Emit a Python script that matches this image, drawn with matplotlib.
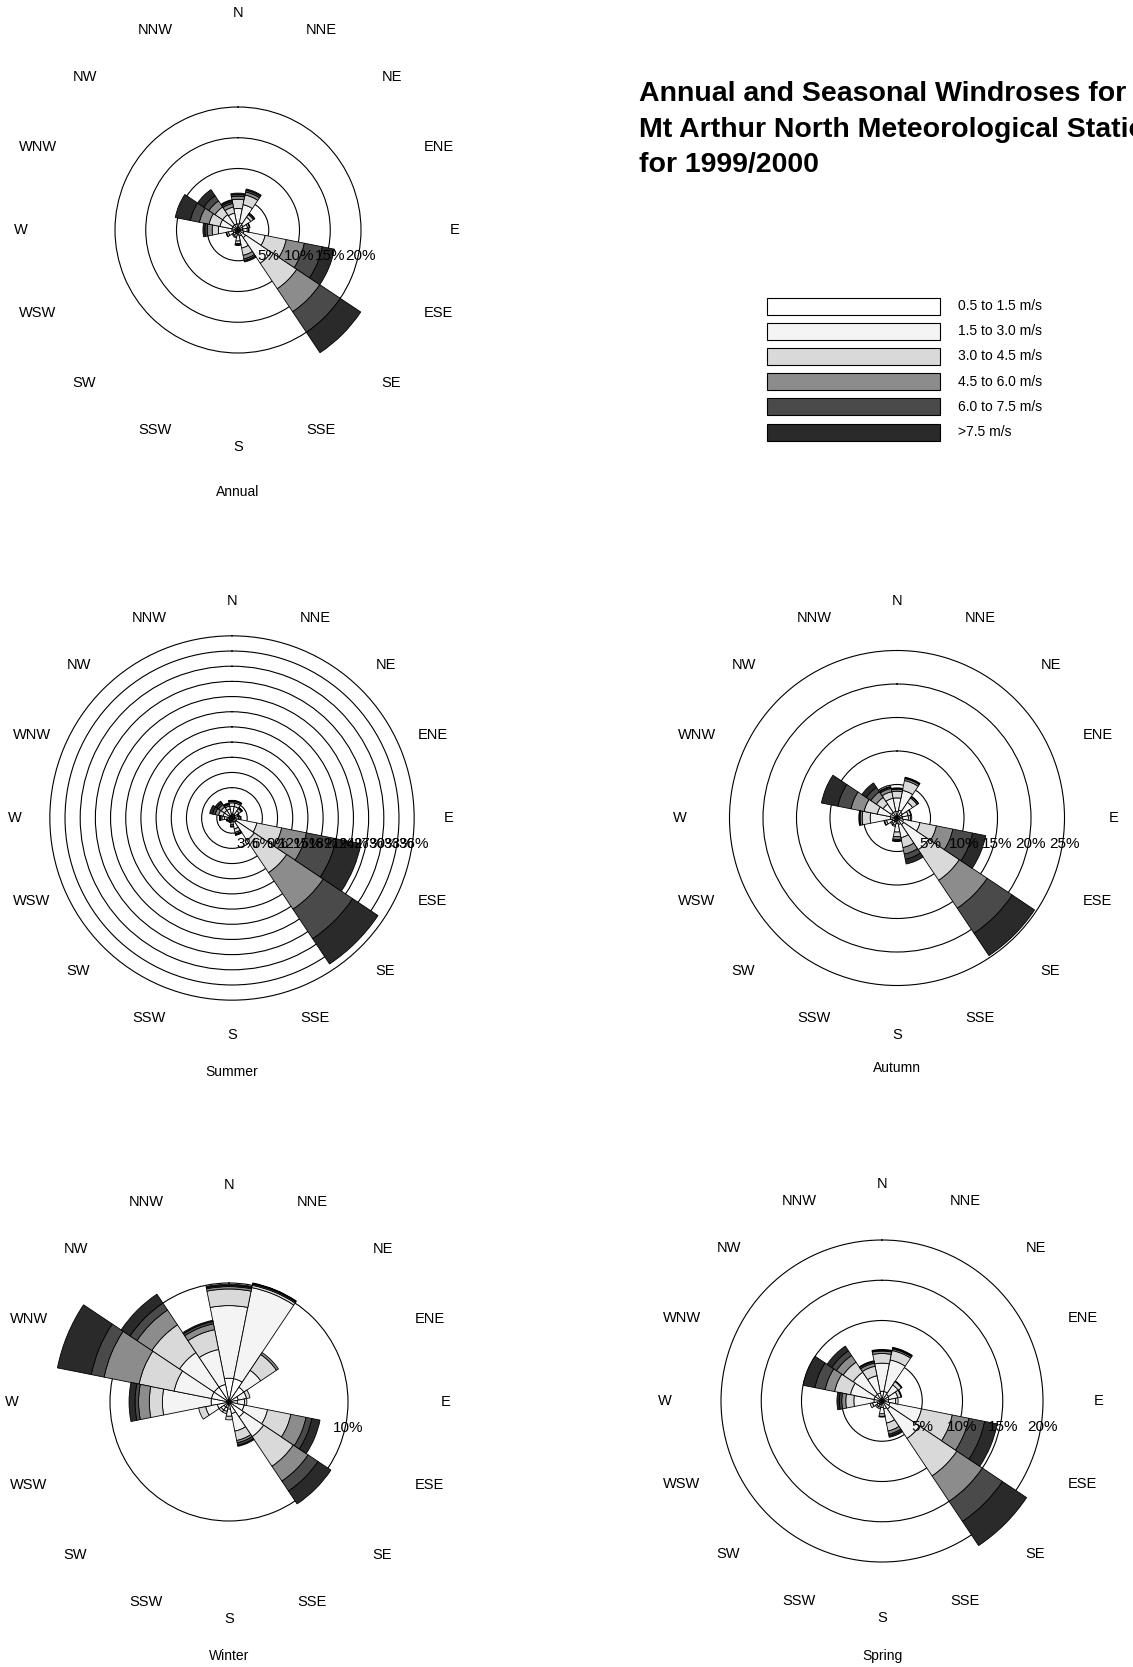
import numpy as np
import matplotlib.pyplot as plt
from matplotlib.patches import Rectangle

plt.rcParams['font.family'] = ['Liberation Sans', 'DejaVu Sans']

# 16 compass sectors, clockwise from north
directions = ["N", "NNE", "NE", "ENE", "E", "ESE", "SE", "SSE",
              "S", "SSW", "SW", "WSW", "W", "WNW", "NW", "NNW"]

speed_classes = ["0.5 to 1.5 m/s", "1.5 to 3.0 m/s", "3.0 to 4.5 m/s",
                 "4.5 to 6.0 m/s", "6.0 to 7.5 m/s", ">7.5 m/s"]
class_colors = ["#ffffff", "#f4f4f4", "#d9d9d9", "#8c8c8c", "#4a4a4a", "#2a2a2a"]

# frequency (%) per direction, one column per speed class
annual = [
    [1.0, 2.5, 1.5, 0.5, 0.3, 0.2],
    [1.2, 3.0, 1.6, 0.5, 0.3, 0.2],
    [1.0, 1.5, 0.5, 0.2, 0.1, 0.0],
    [0.8, 0.8, 0.3, 0.1, 0.0, 0.0],
    [0.8, 0.7, 0.2, 0.1, 0.0, 0.0],
    [1.0, 3.5, 3.5, 3.0, 3.0, 2.0],
    [1.5, 5.0, 5.0, 4.5, 4.0, 4.0],
    [1.0, 2.0, 1.2, 0.6, 0.3, 0.2],
    [0.8, 1.0, 0.4, 0.2, 0.1, 0.0],
    [0.6, 0.5, 0.2, 0.0, 0.0, 0.0],
    [0.6, 0.4, 0.2, 0.0, 0.0, 0.0],
    [0.8, 0.8, 0.3, 0.1, 0.0, 0.0],
    [1.0, 2.2, 1.0, 0.8, 0.4, 0.3],
    [1.0, 2.0, 1.8, 1.6, 1.5, 2.5],
    [1.0, 2.0, 1.5, 1.2, 1.0, 1.2],
    [1.0, 1.8, 1.0, 0.6, 0.3, 0.2],
]

summer = [
    [0.8, 1.5, 0.7, 0.3, 0.1, 0.1],
    [0.8, 1.5, 0.7, 0.3, 0.1, 0.1],
    [0.7, 1.0, 0.5, 0.2, 0.1, 0.0],
    [0.6, 0.6, 0.2, 0.1, 0.0, 0.0],
    [0.6, 0.7, 0.3, 0.2, 0.0, 0.0],
    [1.0, 4.0, 5.0, 5.0, 6.0, 5.0],
    [1.0, 4.3, 7.7, 8.7, 7.0, 6.0],
    [0.8, 1.4, 0.7, 0.3, 0.2, 0.1],
    [0.6, 0.7, 0.3, 0.1, 0.1, 0.0],
    [0.5, 0.3, 0.2, 0.0, 0.0, 0.0],
    [0.5, 0.3, 0.2, 0.0, 0.0, 0.0],
    [0.5, 0.4, 0.2, 0.1, 0.0, 0.0],
    [0.6, 0.9, 0.5, 0.3, 0.1, 0.1],
    [0.6, 1.2, 0.9, 0.7, 0.5, 0.6],
    [0.6, 1.2, 0.8, 0.6, 0.4, 0.4],
    [0.6, 1.2, 0.6, 0.3, 0.2, 0.1],
]

autumn = [
    [1.0, 2.0, 1.0, 0.3, 0.1, 0.1],
    [1.2, 3.0, 1.5, 0.3, 0.1, 0.1],
    [1.0, 1.8, 0.8, 0.2, 0.1, 0.0],
    [0.8, 0.9, 0.4, 0.1, 0.0, 0.0],
    [0.8, 0.9, 0.3, 0.2, 0.0, 0.0],
    [1.0, 2.5, 2.5, 2.5, 3.0, 2.0],
    [1.2, 4.5, 5.5, 5.0, 4.5, 4.0],
    [1.0, 2.0, 1.5, 1.0, 0.8, 0.7],
    [0.8, 1.3, 0.7, 0.4, 0.2, 0.1],
    [0.6, 0.5, 0.2, 0.0, 0.0, 0.0],
    [0.6, 0.4, 0.2, 0.0, 0.0, 0.0],
    [0.8, 0.8, 0.3, 0.1, 0.0, 0.0],
    [1.0, 3.0, 1.2, 0.3, 0.1, 0.1],
    [1.0, 2.0, 2.0, 2.0, 2.0, 2.5],
    [1.0, 1.5, 1.2, 1.0, 0.8, 0.8],
    [1.0, 2.0, 1.0, 0.5, 0.2, 0.1],
]

winter = [
    [2.0, 6.1, 1.4, 0.2, 0.1, 0.1],
    [2.0, 7.8, 0.2, 0.1, 0.05, 0.05],
    [1.5, 1.7, 1.6, 0.2, 0.0, 0.0],
    [0.8, 0.7, 0.3, 0.0, 0.0, 0.0],
    [0.7, 0.6, 0.2, 0.0, 0.0, 0.0],
    [1.3, 2.0, 2.0, 1.3, 0.5, 0.7],
    [1.5, 2.0, 3.0, 1.5, 1.0, 1.3],
    [1.0, 1.5, 0.8, 0.2, 0.2, 0.1],
    [0.6, 0.6, 0.3, 0.0, 0.0, 0.0],
    [0.5, 0.3, 0.2, 0.0, 0.0, 0.0],
    [0.5, 0.3, 0.2, 0.0, 0.0, 0.0],
    [1.0, 1.0, 0.6, 0.0, 0.0, 0.0],
    [1.5, 4.1, 1.1, 0.9, 0.3, 0.5],
    [1.5, 3.2, 3.0, 3.0, 1.1, 2.9],
    [1.5, 3.5, 2.8, 1.5, 0.7, 0.9],
    [1.5, 3.0, 1.7, 0.5, 0.2, 0.1],
]

spring = [
    [1.2, 3.5, 1.2, 0.3, 0.1, 0.1],
    [1.2, 4.0, 1.2, 0.2, 0.1, 0.1],
    [1.0, 1.4, 0.5, 0.1, 0.0, 0.0],
    [0.9, 1.1, 0.4, 0.1, 0.0, 0.0],
    [0.8, 0.9, 0.3, 0.0, 0.0, 0.0],
    [1.0, 4.0, 3.9, 2.1, 2.0, 1.6],
    [1.2, 4.4, 5.6, 3.8, 3.0, 3.6],
    [1.0, 1.8, 1.0, 0.4, 0.2, 0.2],
    [0.8, 0.8, 0.3, 0.1, 0.0, 0.0],
    [0.5, 0.3, 0.2, 0.0, 0.0, 0.0],
    [0.5, 0.3, 0.2, 0.0, 0.0, 0.0],
    [0.6, 0.6, 0.3, 0.0, 0.0, 0.0],
    [1.0, 2.5, 1.0, 0.5, 0.3, 0.3],
    [1.0, 3.0, 2.0, 1.2, 1.3, 1.5],
    [1.0, 3.3, 1.5, 1.0, 0.7, 0.7],
    [1.0, 2.2, 1.2, 0.4, 0.2, 0.1],
]

# ring values (%) drawn on each rose
annual_rings = [5, 10, 15, 20]
summer_rings = [3, 6, 9, 12, 15, 18, 21, 24, 27, 30, 33, 36]
autumn_rings = [5, 10, 15, 20, 25]
winter_rings = [10]
spring_rings = [5, 10, 15, 20]

W, H = 1133, 1667
fig = plt.figure(figsize=(W / 100, H / 100), dpi=100)
fig.patch.set_facecolor("white")

theta = np.deg2rad(np.arange(16) * 22.5)
width = np.deg2rad(22.5)


def draw_rose(name, table, rings, center, px_per_pct, name_off=256):
    R = 250  # axes radius in pixels
    cx, cy = center
    ax = fig.add_axes([(cx - R) / W, 1 - (cy + R) / H, 2 * R / W, 2 * R / H],
                      projection="polar")
    ax.set_theta_zero_location("N")
    ax.set_theta_direction(-1)
    ax.set_ylim(0, R / px_per_pct)
    ax.patch.set_alpha(0)
    ax.spines["polar"].set_visible(False)
    ax.set_xticks([])
    ax.set_yticks(rings)
    ax.set_yticklabels([])
    ax.tick_params(length=0)
    ax.yaxis.grid(True, color="black", linewidth=0.8)

    vals = np.array(table)
    bottom = np.zeros(len(directions))
    for k in range(len(speed_classes)):
        h = vals[:, k]
        m = h > 0
        ax.bar(theta[m], h[m], width=width, bottom=bottom[m],
               color=class_colors[k], edgecolor="black", linewidth=0.6, zorder=3)
        bottom += h

    # percentage labels along the east axis, just below centre
    yoff = 26 / px_per_pct
    for r in rings:
        ax.text(np.pi / 2 + np.arctan2(yoff, r), np.hypot(r, yoff), f"{r}%",
                ha="center", va="center", fontsize=11, zorder=5, clip_on=False)

    for t, d in zip(theta, directions):
        ax.text(t, 217 / px_per_pct, d, ha="center", va="center",
                fontsize=10.5, clip_on=False)
    ax.text(np.pi, name_off / px_per_pct, name, ha="center", va="center",
            fontsize=10, clip_on=False)


draw_rose("Annual", annual, annual_rings, (238, 230), 6.15, name_off=262)
draw_rose("Summer", summer, summer_rings, (232, 818), 5.06, name_off=254)
draw_rose("Autumn", autumn, autumn_rings, (897, 818), 6.7, name_off=250)
draw_rose("Winter", winter, winter_rings, (229, 1402), 11.9, name_off=254)
draw_rose("Spring", spring, spring_rings, (882, 1401), 8.05, name_off=255)

# title and legend in pixel coordinates
ov = fig.add_axes([0, 0, 1, 1])
ov.set_xlim(0, W)
ov.set_ylim(H, 0)
ov.axis("off")

title_lines = ["Annual and Seasonal Windroses for",
               "Mt Arthur North Meteorological Station",
               "for 1999/2000"]
for i, line in enumerate(title_lines):
    ov.text(639, 94 + i * 35.5, line, fontsize=20.5, fontweight="bold",
            ha="left", va="center")

for i, (lab, col) in enumerate(zip(speed_classes, class_colors)):
    y = 306 + i * 25.2
    ov.add_patch(Rectangle((767, y - 8.5), 173, 17, facecolor=col,
                           edgecolor="black", linewidth=0.8))
    ov.text(958, y, lab, fontsize=10, ha="left", va="center")

fig.savefig("out.png", dpi=100)
